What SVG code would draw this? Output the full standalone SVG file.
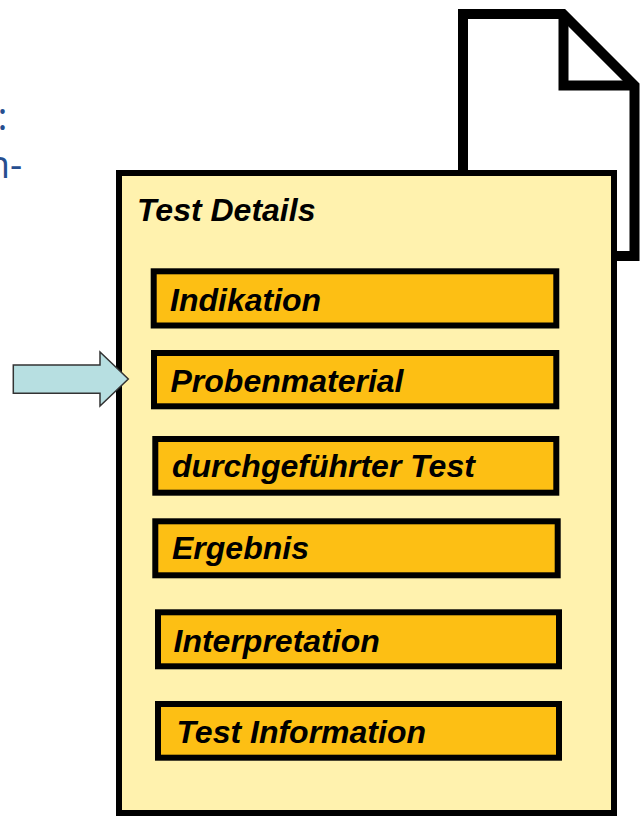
<svg xmlns="http://www.w3.org/2000/svg" width="643" height="816" viewBox="0 0 643 816">
<style>
.side{font-family:"Open Sans","Liberation Sans",sans-serif;font-size:38px;fill:#264E8F}
.lbl{font-family:"Liberation Sans",Arial,sans-serif;font-size:32px;font-weight:bold;font-style:italic;fill:#000}
.item{fill:#FDBF14;stroke:#000;stroke-width:6}
</style>
<rect width="643" height="816" fill="#fff"/>
<g id="side-text">
<text class="side" x="-2.5" y="130">:</text>
<text class="side" x="-13.3" y="178">n-</text>
</g>
<g id="document">
<path d="M463,14 H563 L634.5,85.5 V256 H463 Z" fill="#fff" stroke="#000" stroke-width="10" stroke-linejoin="miter"/>
<path d="M563.5,14 V85.5 H634.5" fill="none" stroke="#000" stroke-width="10"/>
</g>
<g id="test-details">
<rect x="119" y="173" width="495" height="640" fill="#FFF2AE" stroke="#000" stroke-width="6"/>
<text class="lbl" x="137" y="221">Test Details</text>
</g>
<g id="indikation">
<rect class="item" x="153.7" y="271.3" width="402.6" height="54.2"/>
<text class="lbl" x="170" y="310.7">Indikation</text>
</g>
<g id="probenmaterial">
<rect class="item" x="154" y="353" width="402.3" height="53.3"/>
<text class="lbl" x="170.5" y="391.7">Probenmaterial</text>
</g>
<g id="durchgefuehrter-test">
<rect class="item" x="155.3" y="439" width="401" height="53.7"/>
<text class="lbl" x="172" y="477.3">durchgeführter Test</text>
</g>
<g id="ergebnis">
<rect class="item" x="155.3" y="521.3" width="402.4" height="54"/>
<text class="lbl" x="172" y="559">Ergebnis</text>
</g>
<g id="interpretation">
<rect class="item" x="158" y="612.3" width="401" height="54"/>
<text class="lbl" x="173.5" y="651.7">Interpretation</text>
</g>
<g id="test-information">
<rect class="item" x="158" y="704" width="401" height="53.7"/>
<text class="lbl" x="176.5" y="743.3">Test Information</text>
</g>
<g id="connectors">
<polygon points="13.3,365 100,365 100,352 128.3,379 100,406 100,393.3 13.3,393.3" fill="#B7DFE1" stroke="#333" stroke-width="1.5" stroke-linejoin="miter"/>
</g>
</svg>
